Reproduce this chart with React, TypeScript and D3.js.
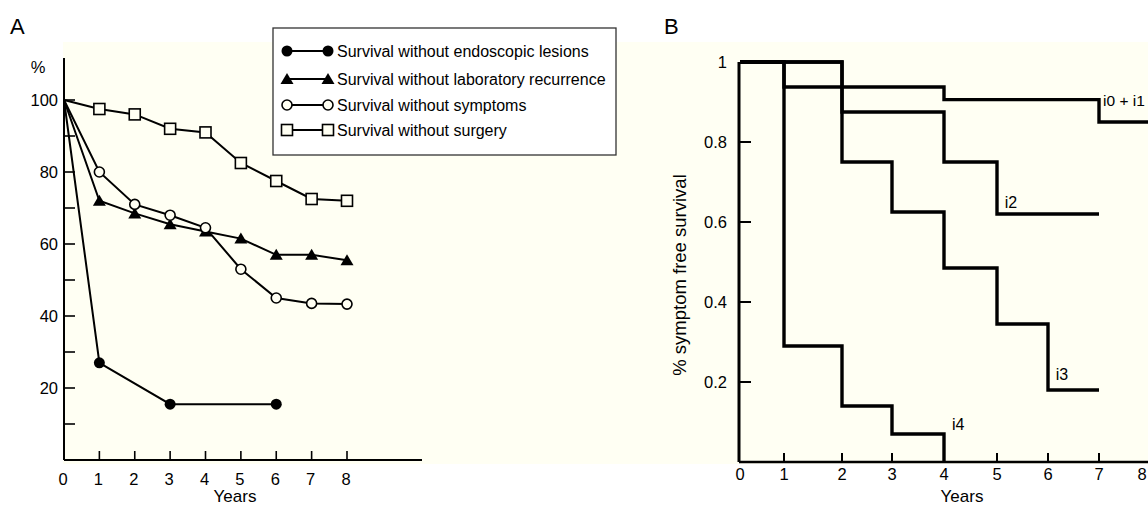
import React from "react";
import * as d3 from "d3";

// ---------- Panel A data ----------
const yearsA = [0, 1, 2, 3, 4, 5, 6, 7, 8];
const endoscopicYears = [0, 1, 3, 6];
const endoscopic = [100, 27, 15.5, 15.5];
const laboratory = [100, 72, 68.5, 65.5, 63.5, 61.5, 57, 57, 55.5];
const symptoms = [100, 80, 71, 68, 64.5, 53, 45, 43.5, 43.3];
const surgery = [100, 97.5, 96, 92, 91, 82.5, 77.5, 72.5, 72];
const legendLabels = [
  "Survival without endoscopic lesions",
  "Survival without laboratory recurrence",
  "Survival without symptoms",
  "Survival without surgery",
];
const yTicksA = [20, 40, 60, 80, 100];
const yMinorA = [10, 20, 30, 40, 50, 60, 70, 80, 90, 100];
const xTicksA = [0, 1, 2, 3, 4, 5, 6, 7, 8];

// ---------- Panel B data (Kaplan-Meier steps) ----------
const i01Years = [0, 1, 4, 7, 8];
const i01 = [1, 0.9375, 0.906, 0.85, 0.85];
const i2Years = [0, 2, 4, 5, 7];
const i2 = [1, 0.875, 0.75, 0.62, 0.62];
const i3Years = [0, 2, 3, 4, 5, 6, 7];
const i3 = [1, 0.75, 0.625, 0.485, 0.345, 0.18, 0.18];
const i4Years = [0, 1, 2, 3, 4, 4];
const i4 = [1, 0.29, 0.14, 0.07, 0, 0];
const yTicksB = [0.2, 0.4, 0.6, 0.8];
const yTickLabelsB = ["0.2", "0.4", "0.6", "0.8", "1"];
const xTicksB = [0, 1, 2, 3, 4, 5, 6, 7, 8];

const FONT = "Arial, 'Liberation Sans', Helvetica, sans-serif";
const BG = "#fffff3";

type Shape = "fcircle" | "ftri" | "ocircle" | "osquare";

function Marker({ x, y, shape }: { x: number; y: number; shape: Shape }) {
  if (shape === "fcircle") return <circle cx={x} cy={y} r={5.5} fill="#000" />;
  if (shape === "ocircle")
    return <circle cx={x} cy={y} r={5} fill={BG} stroke="#000" strokeWidth={1.6} />;
  if (shape === "osquare")
    return <rect x={x - 5.5} y={y - 5.5} width={11} height={11} fill={BG} stroke="#000" strokeWidth={1.6} />;
  return <path d={`M${x},${y - 6}L${x + 6.5},${y + 5}L${x - 6.5},${y + 5}Z`} fill="#000" />;
}

export default function App() {
  // Panel A scales
  const xA = d3.scaleLinear().domain([0, 8]).range([64, 347]);
  const yA = d3.scaleLinear().domain([0, 100]).range([460, 100]);
  const lineA = d3.line<[number, number]>().x((d) => xA(d[0])).y((d) => yA(d[1]));

  const seriesA: { xs: number[]; ys: number[]; shape: Shape }[] = [
    { xs: endoscopicYears, ys: endoscopic, shape: "fcircle" },
    { xs: yearsA, ys: laboratory, shape: "ftri" },
    { xs: yearsA, ys: symptoms, shape: "ocircle" },
    { xs: yearsA, ys: surgery, shape: "osquare" },
  ];

  // Panel B scales (hand-drawn axis, uneven tick spacing)
  const xB = d3
    .scaleLinear()
    .domain(xTicksB)
    .range([740, 784, 842, 892, 944, 997, 1048, 1099, 1150]);
  const yB = d3.scaleLinear().domain([0, 1]).range([462, 62]);
  const stepB = d3
    .line<[number, number]>()
    .x((d) => xB(d[0]))
    .y((d) => yB(d[1]))
    .curve(d3.curveStepAfter);

  const seriesB = [
    { xs: i01Years, ys: i01, label: "i0 + i1", lx: 7.08, ly: 0.89, fs: 15.5 },
    { xs: i2Years, ys: i2, label: "i2", lx: 5.15, ly: 0.635, fs: 16 },
    { xs: i3Years, ys: i3, label: "i3", lx: 6.15, ly: 0.205, fs: 16 },
    { xs: i4Years, ys: i4, label: "i4", lx: 4.15, ly: 0.08, fs: 16 },
  ];

  const legendRows = [51, 79, 105, 130];

  return (
    <svg width={1148} height={507} style={{ display: "block", position: "absolute", left: 0, top: 0 }} fontFamily={FONT}>
      <rect x={0} y={0} width={1148} height={507} fill="#fff" />
      <rect x={63} y={42} width={1085} height={422} fill={BG} />

      {/* ---------- Panel A ---------- */}
      <text x={10} y={34} fontSize={22}>A</text>
      <line x1={xA(0)} x2={xA(0)} y1={58} y2={yA(0)} stroke="#000" strokeWidth={2} />
      <line x1={xA(0)} x2={422} y1={yA(0)} y2={yA(0)} stroke="#000" strokeWidth={2} />
      {yMinorA.map((t) => (
        <line key={"ym" + t} x1={xA(0)} x2={xA(0) + 11} y1={yA(t)} y2={yA(t)} stroke="#000" strokeWidth={1.6} />
      ))}
      {xTicksA.slice(1).map((t) => (
        <line key={"xt" + t} x1={xA(t)} x2={xA(t)} y1={yA(0)} y2={yA(0) - 9} stroke="#000" strokeWidth={1.6} />
      ))}
      {yTicksA.map((t) => (
        <text key={"yl" + t} x={58} y={yA(t) + 5.5} fontSize={16.5} textAnchor="end">{t}</text>
      ))}
      <text x={38} y={73} fontSize={16.5} textAnchor="middle">%</text>
      {xTicksA.map((t) => (
        <text key={"xl" + t} x={xA(t) - 1} y={485} fontSize={16.5} textAnchor="middle">{t}</text>
      ))}
      <text x={235} y={502} fontSize={17} textAnchor="middle">Years</text>

      {seriesA.map((s, i) => {
        const pts = s.xs.map((x, j) => [x, s.ys[j]] as [number, number]);
        return (
          <g key={"sa" + i}>
            <path d={lineA(pts) || ""} fill="none" stroke="#000" strokeWidth={2} />
            {pts.slice(1).map((p, j) => (
              <Marker key={j} x={xA(p[0])} y={yA(p[1])} shape={s.shape} />
            ))}
          </g>
        );
      })}

      {/* Legend */}
      <rect x={273} y={28} width={343} height={127} fill="#fff" stroke="#333" strokeWidth={1.3} />
      {legendLabels.map((lab, i) => (
        <g key={"lg" + i}>
          <line x1={287} x2={328} y1={legendRows[i]} y2={legendRows[i]} stroke="#000" strokeWidth={2} />
          <Marker x={287} y={legendRows[i]} shape={seriesA[i].shape} />
          <Marker x={328} y={legendRows[i]} shape={seriesA[i].shape} />
          <text x={337} y={legendRows[i] + 5.5} fontSize={16}>{lab}</text>
        </g>
      ))}

      {/* ---------- Panel B ---------- */}
      <text x={664} y={34} fontSize={22}>B</text>
      {seriesB.map((s, i) => {
        const pts = s.xs.map((x, j) => [x, s.ys[j]] as [number, number]);
        return (
          <g key={"sb" + i}>
            <path d={stepB(pts) || ""} fill="none" stroke="#000" strokeWidth={3.4} />
            <text x={xB(s.lx)} y={yB(s.ly)} fontSize={s.fs}>{s.label}</text>
          </g>
        );
      })}
      <line x1={739} x2={739} y1={yB(1)} y2={yB(0)} stroke="#000" strokeWidth={3} />
      <line x1={739} x2={1148} y1={yB(0)} y2={yB(0)} stroke="#000" strokeWidth={2.5} />
      {yTicksB.map((t) => (
        <line key={"ybt" + t} x1={739} x2={751} y1={yB(t)} y2={yB(t)} stroke="#000" strokeWidth={2} />
      ))}
      {xTicksB.slice(1).map((t) => (
        <line key={"xbt" + t} x1={xB(t)} x2={xB(t)} y1={yB(0)} y2={yB(0) - 9} stroke="#000" strokeWidth={2} />
      ))}
      {[...yTicksB, 1].map((t, i) => (
        <text key={"ybl" + t} x={727} y={yB(t) + 5.5} fontSize={16.5} textAnchor="end">{yTickLabelsB[i]}</text>
      ))}
      {xTicksB.map((t) => (
        <text key={"xbl" + t} x={Math.min(xB(t), 1142)} y={480} fontSize={16.5} textAnchor="middle">{t}</text>
      ))}
      <text x={962} y={502} fontSize={17} textAnchor="middle">Years</text>
      <text
        transform={`translate(686,275) rotate(-90)`}
        fontSize={18.5}
        textAnchor="middle"
      >
        % symptom free survival
      </text>
    </svg>
  );
}
